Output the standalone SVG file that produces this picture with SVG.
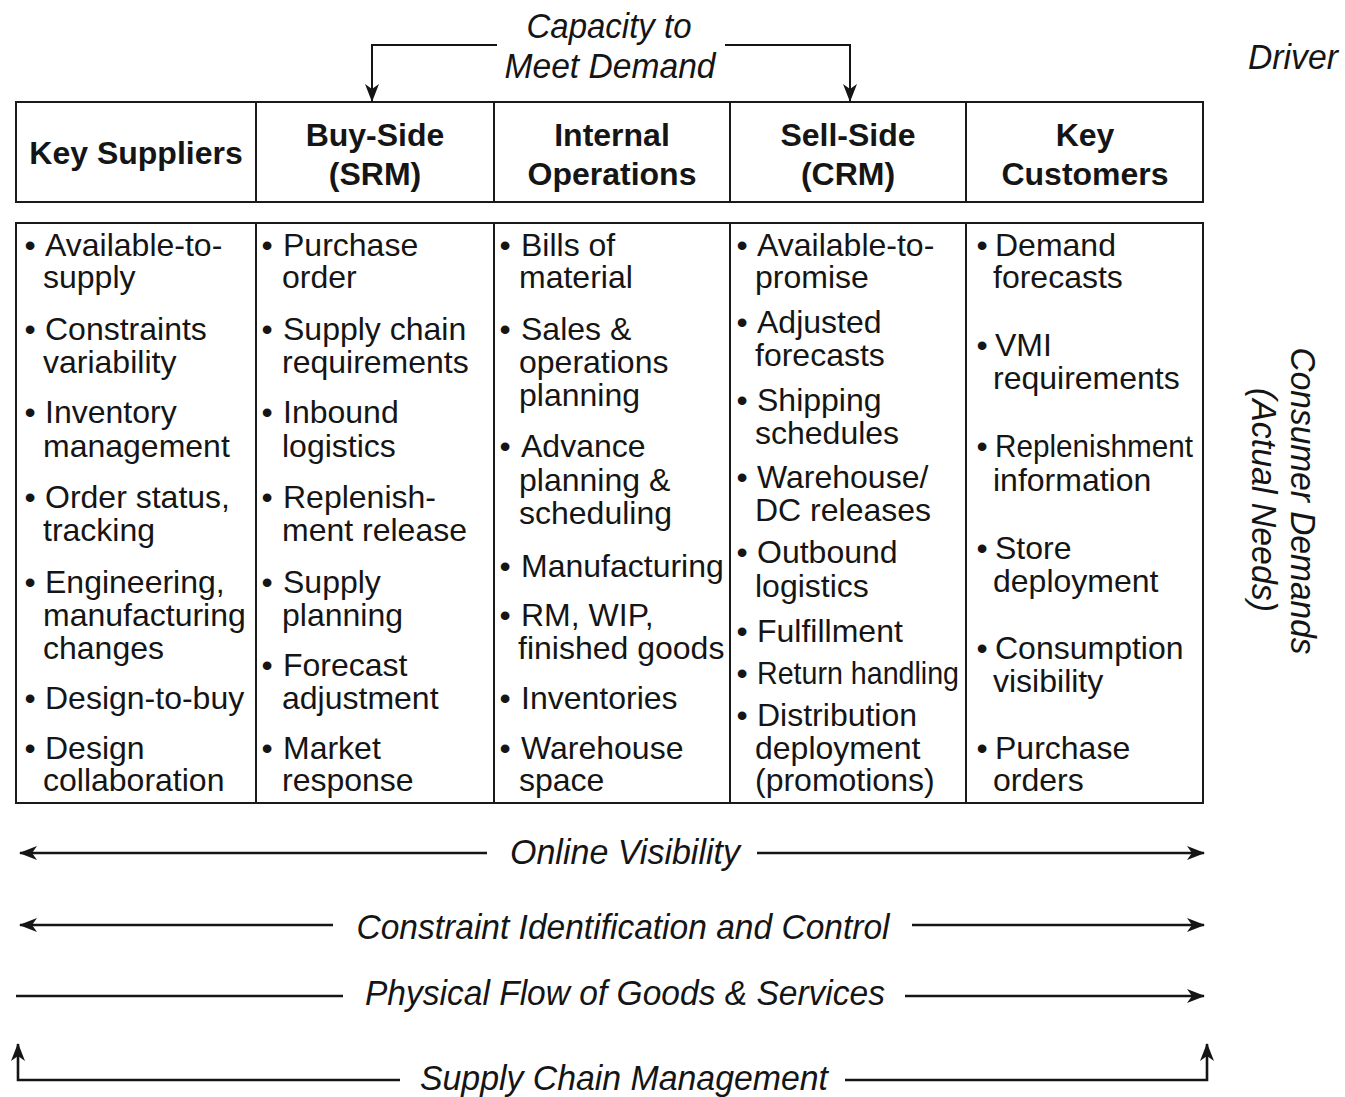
<svg xmlns="http://www.w3.org/2000/svg" width="1345" height="1097" viewBox="0 0 1345 1097">
  <style>
    .box { fill: #ffffff; stroke: #1a1a1a; stroke-width: 2; }
    .head { font-family: "Liberation Sans", Arial, sans-serif; font-weight: bold; font-size: 32px; fill: #151515; text-anchor: middle; }
    .body { font-family: "Liberation Sans", Arial, sans-serif; font-size: 32px; fill: #151515; }
    .bul { font-family: "Liberation Sans", Arial, sans-serif; font-size: 32px; fill: #151515; text-anchor: middle; }
    .lbl { font-family: "Liberation Sans", Arial, sans-serif; font-style: italic; font-size: 35px; fill: #151515; text-anchor: middle; }
    .wire { fill: none; stroke: #151515; stroke-width: 2; }
    .wire2 { fill: none; stroke: #151515; stroke-width: 2.6; }
  </style>
  <defs>
    <marker id="arrow" viewBox="0 0 18 14" refX="17" refY="7" markerWidth="18" markerHeight="14" orient="auto-start-reverse" markerUnits="userSpaceOnUse">
      <path d="M0,0 L18,7 L0,14 L5,7 Z" fill="#151515"/>
    </marker>
  </defs>
  <rect width="1345" height="1097" fill="#ffffff"/>

  <!-- Column: Key Suppliers -->
  <g id="key-suppliers">
    <rect class="box" x="16" y="102" width="240" height="100"/>
    <rect class="box" x="16" y="223" width="240" height="580"/>
    <text class="head" x="136" y="164">Key Suppliers</text>
    <g class="bul">
      <text x="30" y="256">•</text><text x="30" y="340">•</text><text x="30" y="423">•</text>
      <text x="30" y="508">•</text><text x="30" y="593">•</text><text x="30" y="709">•</text><text x="30" y="759">•</text>
    </g>
    <g class="body">
      <text x="45" y="256">Available-to-</text><text x="43" y="288">supply</text>
      <text x="45" y="340">Constraints</text><text x="43" y="373">variability</text>
      <text x="45" y="423">Inventory</text><text x="43" y="457">management</text>
      <text x="45" y="508">Order status,</text><text x="43" y="541">tracking</text>
      <text x="45" y="593">Engineering,</text><text x="43" y="626">manufacturing</text><text x="43" y="659">changes</text>
      <text x="45" y="709">Design-to-buy</text>
      <text x="45" y="759">Design</text><text x="43" y="791">collaboration</text>
    </g>
  </g>

  <!-- Column: Buy-Side (SRM) -->
  <g id="buy-side">
    <rect class="box" x="256" y="102" width="238" height="100"/>
    <rect class="box" x="256" y="223" width="238" height="580"/>
    <text class="head" x="375" y="146">Buy-Side</text>
    <text class="head" x="375" y="185">(SRM)</text>
    <g class="bul">
      <text x="267" y="256">•</text><text x="267" y="340">•</text><text x="267" y="423">•</text>
      <text x="267" y="508">•</text><text x="267" y="593">•</text><text x="267" y="676">•</text><text x="267" y="759">•</text>
    </g>
    <g class="body">
      <text x="283" y="256">Purchase</text><text x="282" y="288">order</text>
      <text x="283" y="340">Supply chain</text><text x="282" y="373">requirements</text>
      <text x="283" y="423">Inbound</text><text x="282" y="457">logistics</text>
      <text x="283" y="508">Replenish-</text><text x="282" y="541">ment release</text>
      <text x="283" y="593">Supply</text><text x="282" y="626">planning</text>
      <text x="283" y="676">Forecast</text><text x="282" y="709">adjustment</text>
      <text x="283" y="759">Market</text><text x="282" y="791">response</text>
    </g>
  </g>

  <!-- Column: Internal Operations -->
  <g id="internal-operations">
    <rect class="box" x="494" y="102" width="236" height="100"/>
    <rect class="box" x="494" y="223" width="236" height="580"/>
    <text class="head" x="612" y="146">Internal</text>
    <text class="head" x="612" y="185">Operations</text>
    <g class="bul">
      <text x="505" y="256">•</text><text x="505" y="340">•</text><text x="505" y="457">•</text>
      <text x="505" y="577">•</text><text x="505" y="626">•</text><text x="505" y="709">•</text><text x="505" y="759">•</text>
    </g>
    <g class="body">
      <text x="521" y="256">Bills of</text><text x="519" y="288">material</text>
      <text x="521" y="340">Sales &amp;</text><text x="519" y="373">operations</text><text x="519" y="406">planning</text>
      <text x="521" y="457">Advance</text><text x="519" y="491">planning &amp;</text><text x="519" y="524">scheduling</text>
      <text x="521" y="577">Manufacturing</text>
      <text x="521" y="626">RM, WIP,</text><text x="518" y="659">finished goods</text>
      <text x="521" y="709">Inventories</text>
      <text x="521" y="759">Warehouse</text><text x="519" y="791">space</text>
    </g>
  </g>

  <!-- Column: Sell-Side (CRM) -->
  <g id="sell-side">
    <rect class="box" x="730" y="102" width="236" height="100"/>
    <rect class="box" x="730" y="223" width="236" height="580"/>
    <text class="head" x="848" y="146">Sell-Side</text>
    <text class="head" x="848" y="185">(CRM)</text>
    <g class="bul">
      <text x="742" y="256">•</text><text x="742" y="333">•</text><text x="742" y="411">•</text>
      <text x="742" y="488">•</text><text x="742" y="563">•</text><text x="742" y="642">•</text>
      <text x="742" y="684">•</text><text x="742" y="726">•</text>
    </g>
    <g class="body">
      <text x="757" y="256">Available-to-</text><text x="755" y="288">promise</text>
      <text x="757" y="333">Adjusted</text><text x="755" y="366">forecasts</text>
      <text x="757" y="411">Shipping</text><text x="755" y="444">schedules</text>
      <text x="757" y="488">Warehouse/</text><text x="755" y="521">DC releases</text>
      <text x="757" y="563">Outbound</text><text x="755" y="597">logistics</text>
      <text x="757" y="642">Fulfillment</text>
      <text x="757" y="684" textLength="202" lengthAdjust="spacingAndGlyphs">Return handling</text>
      <text x="757" y="726">Distribution</text><text x="755" y="759">deployment</text><text x="755" y="791">(promotions)</text>
    </g>
  </g>

  <!-- Column: Key Customers -->
  <g id="key-customers">
    <rect class="box" x="966" y="102" width="237" height="100"/>
    <rect class="box" x="966" y="223" width="237" height="580"/>
    <text class="head" x="1085" y="146">Key</text>
    <text class="head" x="1085" y="185">Customers</text>
    <g class="bul">
      <text x="982" y="256">•</text><text x="982" y="356">•</text><text x="982" y="457">•</text>
      <text x="982" y="559">•</text><text x="982" y="659">•</text><text x="982" y="759">•</text>
    </g>
    <g class="body">
      <text x="995" y="256">Demand</text><text x="993" y="288">forecasts</text>
      <text x="995" y="356">VMI</text><text x="993" y="389">requirements</text>
      <text x="995" y="457" textLength="198" lengthAdjust="spacingAndGlyphs">Replenishment</text><text x="993" y="491">information</text>
      <text x="995" y="559">Store</text><text x="993" y="592">deployment</text>
      <text x="995" y="659">Consumption</text><text x="993" y="692">visibility</text>
      <text x="995" y="759">Purchase</text><text x="993" y="791">orders</text>
    </g>
  </g>

  <!-- Side labels -->
  <g id="side-labels">
    <text class="lbl" x="1293" y="69" textLength="90" lengthAdjust="spacingAndGlyphs">Driver</text>
    <text class="lbl" transform="translate(1291,501) rotate(90)" textLength="307" lengthAdjust="spacingAndGlyphs">Consumer Demands</text>
    <text class="lbl" transform="translate(1252,500) rotate(90)" textLength="224" lengthAdjust="spacingAndGlyphs">(Actual Needs)</text>
  </g>

  <!-- Connectors and flow bands -->
  <g id="connectors">
    <path class="wire" d="M497,45 H372 V101" marker-end="url(#arrow)"/>
    <path class="wire" d="M725,45 H850 V101" marker-end="url(#arrow)"/>
    <text class="lbl" x="609" y="38" textLength="165" lengthAdjust="spacingAndGlyphs">Capacity to</text>
    <text class="lbl" x="610" y="78" textLength="211" lengthAdjust="spacingAndGlyphs">Meet Demand</text>

    <path class="wire2" d="M487,853 H20" marker-end="url(#arrow)"/>
    <path class="wire2" d="M757,853 H1204" marker-end="url(#arrow)"/>
    <text class="lbl" x="625" y="864" textLength="230" lengthAdjust="spacingAndGlyphs">Online Visibility</text>

    <path class="wire2" d="M333,925 H20" marker-end="url(#arrow)"/>
    <path class="wire2" d="M912,925 H1204" marker-end="url(#arrow)"/>
    <text class="lbl" x="623" y="939" textLength="533" lengthAdjust="spacingAndGlyphs">Constraint Identification and Control</text>

    <path class="wire2" d="M16,996 H343"/>
    <path class="wire2" d="M905,996 H1204" marker-end="url(#arrow)"/>
    <text class="lbl" x="625" y="1005" textLength="520" lengthAdjust="spacingAndGlyphs">Physical Flow of Goods &amp; Services</text>

    <path class="wire2" d="M400,1080 H18 V1044" marker-end="url(#arrow)"/>
    <path class="wire2" d="M845,1080 H1207 V1044" marker-end="url(#arrow)"/>
    <text class="lbl" x="624" y="1090" textLength="408" lengthAdjust="spacingAndGlyphs">Supply Chain Management</text>
  </g>
</svg>
